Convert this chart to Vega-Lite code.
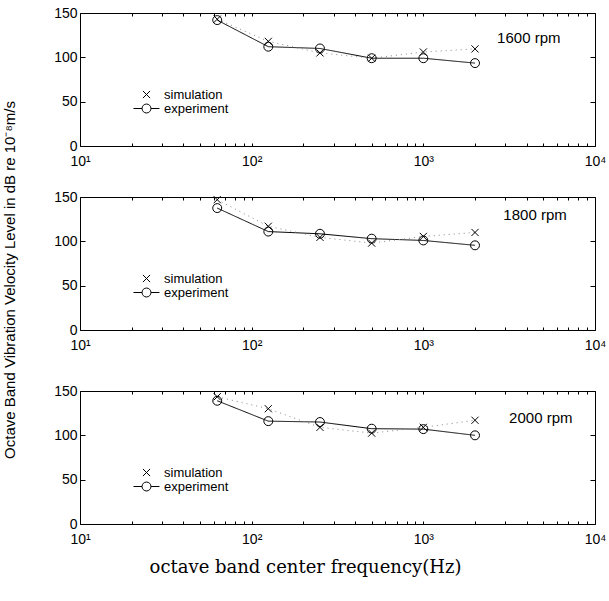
{
  "$schema": "https://vega.github.io/schema/vega-lite/v6.json",
  "padding": {"left": 3, "top": 5, "right": 2, "bottom": 5},
  "background": "white",
  "title": {"text": "Octave Band Vibration Velocity Level in dB re 10⁻⁸m/s", "orient": "left", "anchor": "middle", "font": "Liberation Sans", "fontSize": 15, "fontWeight": "normal", "color": "black", "offset": 35, "dx": 11},
  "config": {
    "view": {"stroke": "black", "strokeWidth": 1},
    "font": "Liberation Sans",
    "axis": {"grid": false, "domain": false, "tickColor": "black", "labelColor": "black", "titleColor": "black", "titleFontWeight": "normal"}
  },
  "datasets": {
    "levels": [
      {"rpm": 1600, "series": "experiment", "freq": 63, "level": 142},
      {"rpm": 1600, "series": "experiment", "freq": 125, "level": 112},
      {"rpm": 1600, "series": "experiment", "freq": 250, "level": 110},
      {"rpm": 1600, "series": "experiment", "freq": 500, "level": 99},
      {"rpm": 1600, "series": "experiment", "freq": 1000, "level": 99},
      {"rpm": 1600, "series": "experiment", "freq": 2000, "level": 93.5},
      {"rpm": 1600, "series": "simulation", "freq": 63, "level": 143},
      {"rpm": 1600, "series": "simulation", "freq": 125, "level": 118},
      {"rpm": 1600, "series": "simulation", "freq": 250, "level": 105},
      {"rpm": 1600, "series": "simulation", "freq": 500, "level": 99},
      {"rpm": 1600, "series": "simulation", "freq": 1000, "level": 106},
      {"rpm": 1600, "series": "simulation", "freq": 2000, "level": 109.5},
      {"rpm": 1800, "series": "experiment", "freq": 63, "level": 137.5},
      {"rpm": 1800, "series": "experiment", "freq": 125, "level": 111},
      {"rpm": 1800, "series": "experiment", "freq": 250, "level": 108.5},
      {"rpm": 1800, "series": "experiment", "freq": 500, "level": 103},
      {"rpm": 1800, "series": "experiment", "freq": 1000, "level": 101},
      {"rpm": 1800, "series": "experiment", "freq": 2000, "level": 95.5},
      {"rpm": 1800, "series": "simulation", "freq": 63, "level": 147},
      {"rpm": 1800, "series": "simulation", "freq": 125, "level": 117},
      {"rpm": 1800, "series": "simulation", "freq": 250, "level": 104.5},
      {"rpm": 1800, "series": "simulation", "freq": 500, "level": 98},
      {"rpm": 1800, "series": "simulation", "freq": 1000, "level": 105.5},
      {"rpm": 1800, "series": "simulation", "freq": 2000, "level": 110},
      {"rpm": 2000, "series": "experiment", "freq": 63, "level": 139},
      {"rpm": 2000, "series": "experiment", "freq": 125, "level": 116},
      {"rpm": 2000, "series": "experiment", "freq": 250, "level": 115},
      {"rpm": 2000, "series": "experiment", "freq": 500, "level": 107.5},
      {"rpm": 2000, "series": "experiment", "freq": 1000, "level": 107},
      {"rpm": 2000, "series": "experiment", "freq": 2000, "level": 100},
      {"rpm": 2000, "series": "simulation", "freq": 63, "level": 143.5},
      {"rpm": 2000, "series": "simulation", "freq": 125, "level": 130},
      {"rpm": 2000, "series": "simulation", "freq": 250, "level": 109},
      {"rpm": 2000, "series": "simulation", "freq": 500, "level": 102.5},
      {"rpm": 2000, "series": "simulation", "freq": 1000, "level": 109},
      {"rpm": 2000, "series": "simulation", "freq": 2000, "level": 117}
    ]
  },
  "spacing": 30,
  "resolve": {"legend": {"shape": "independent"}},
  "vconcat": [
    {
      "spacing": 20,
      "resolve": {"legend": {"shape": "independent"}},
      "vconcat": [
        {
          "width": 515, "height": 133,
          "data": {"name": "levels"},
          "transform": [{"filter": "datum.rpm == 1600"}],
          "resolve": {"scale": {"shape": "independent"}, "axis": {"x": "independent", "y": "independent"}},
          "layer": [
            {
              "mark": {"type": "line", "strokeWidth": 1},
              "encoding": {
                "x": {"field": "freq", "type": "quantitative", "scale": {"type": "log", "domain": [10, 10000], "nice": false},
                  "axis": {"values": [10,20,30,40,50,60,70,80,90,100,200,300,400,500,600,700,800,900,1000,2000,3000,4000,5000,6000,7000,8000,9000,10000],
                    "labelExpr": "datum.value == 10 ? '10¹' : datum.value == 100 ? '10²' : datum.value == 1000 ? '10³' : datum.value == 10000 ? '10⁴' : ''",
                    "labelOverlap": false, "labelFlush": false, "tickSize": -3, "labelPadding": 11, "labelFontSize": 14, "title": null}},
                "y": {"field": "level", "type": "quantitative", "scale": {"domain": [0, 150], "nice": false},
                  "axis": {"values": [0, 50, 100, 150], "tickSize": -5, "labelPadding": 8, "labelFontSize": 14, "title": null}},
                "strokeDash": {"field": "series", "type": "nominal", "scale": {"domain": ["simulation", "experiment"], "range": [[1, 4], [1, 0]]}, "legend": null},
                "color": {"field": "series", "type": "nominal", "scale": {"domain": ["simulation", "experiment"], "range": ["#888888", "#000000"]}, "legend": null}
              }
            },
            {
              "mark": {"type": "point", "filled": false, "strokeWidth": 1, "size": 80, "color": "black", "opacity": 1},
              "encoding": {
                "x": {"field": "freq", "type": "quantitative", "axis": null},
                "y": {"field": "level", "type": "quantitative", "axis": null},
                "shape": {"field": "series", "type": "nominal", "scale": {"domain": ["simulation", "experiment"], "range": ["M-0.8,-0.8L0.8,0.8M-0.8,0.8L0.8,-0.8", "circle"]}, "legend": null}
              }
            },
            {
              "mark": {"type": "point", "filled": false, "strokeWidth": 1, "size": 80, "color": "black", "opacity": 0},
              "encoding": {
                "x": {"field": "freq", "type": "quantitative", "axis": {"orient": "top", "values": [10,20,30,40,50,60,70,80,90,100,200,300,400,500,600,700,800,900,1000,2000,3000,4000,5000,6000,7000,8000,9000,10000], "labels": false, "tickSize": -3, "title": null}},
                "y": {"field": "level", "type": "quantitative", "axis": {"orient": "right", "values": [0, 50, 100, 150], "labels": false, "tickSize": -5, "title": null}},
                "shape": {"field": "series", "type": "nominal", "scale": {"domain": ["simulation", "experiment"], "range": ["M-0.8,-0.8L0.8,0.8M-0.8,0.8L0.8,-0.8", "M-1,0A1,1 0 1,0 1,0A1,1 0 1,0 -1,0M-2.9,0L-1,0M1,0L2.9,0"]},
                  "legend": {"orient": "none", "legendX": 60, "legendY": 75, "title": null, "labelFontSize": 13, "labelOffset": 11, "rowPadding": 0, "padding": 0,
                    "symbolStrokeColor": "black", "symbolFillColor": "transparent", "symbolStrokeWidth": 1, "symbolSize": 80, "symbolOpacity": 1, "labelColor": "black"}}
              }
            },
            {
              "data": {"values": [{"label": "1600 rpm"}]},
              "mark": {"type": "text", "align": "left", "baseline": "middle", "fontSize": 15, "color": "black"},
              "encoding": {"text": {"field": "label"}, "x": {"datum": 2690, "axis": null}, "y": {"datum": 122, "axis": null}}
            }
          ]
        },
        {
          "width": 515, "height": 133,
          "data": {"name": "levels"},
          "transform": [{"filter": "datum.rpm == 1800"}],
          "resolve": {"scale": {"shape": "independent"}, "axis": {"x": "independent", "y": "independent"}},
          "layer": [
            {
              "mark": {"type": "line", "strokeWidth": 1},
              "encoding": {
                "x": {"field": "freq", "type": "quantitative", "scale": {"type": "log", "domain": [10, 10000], "nice": false},
                  "axis": {"values": [10,20,30,40,50,60,70,80,90,100,200,300,400,500,600,700,800,900,1000,2000,3000,4000,5000,6000,7000,8000,9000,10000],
                    "labelExpr": "datum.value == 10 ? '10¹' : datum.value == 100 ? '10²' : datum.value == 1000 ? '10³' : datum.value == 10000 ? '10⁴' : ''",
                    "labelOverlap": false, "labelFlush": false, "tickSize": -3, "labelPadding": 11, "labelFontSize": 14, "title": null}},
                "y": {"field": "level", "type": "quantitative", "scale": {"domain": [0, 150], "nice": false},
                  "axis": {"values": [0, 50, 100, 150], "tickSize": -5, "labelPadding": 8, "labelFontSize": 14, "title": null}},
                "strokeDash": {"field": "series", "type": "nominal", "scale": {"domain": ["simulation", "experiment"], "range": [[1, 4], [1, 0]]}, "legend": null},
                "color": {"field": "series", "type": "nominal", "scale": {"domain": ["simulation", "experiment"], "range": ["#888888", "#000000"]}, "legend": null}
              }
            },
            {
              "mark": {"type": "point", "filled": false, "strokeWidth": 1, "size": 80, "color": "black", "opacity": 1},
              "encoding": {
                "x": {"field": "freq", "type": "quantitative", "axis": null},
                "y": {"field": "level", "type": "quantitative", "axis": null},
                "shape": {"field": "series", "type": "nominal", "scale": {"domain": ["simulation", "experiment"], "range": ["M-0.8,-0.8L0.8,0.8M-0.8,0.8L0.8,-0.8", "circle"]}, "legend": null}
              }
            },
            {
              "mark": {"type": "point", "filled": false, "strokeWidth": 1, "size": 80, "color": "black", "opacity": 0},
              "encoding": {
                "x": {"field": "freq", "type": "quantitative", "axis": {"orient": "top", "values": [10,20,30,40,50,60,70,80,90,100,200,300,400,500,600,700,800,900,1000,2000,3000,4000,5000,6000,7000,8000,9000,10000], "labels": false, "tickSize": -3, "title": null}},
                "y": {"field": "level", "type": "quantitative", "axis": {"orient": "right", "values": [0, 50, 100, 150], "labels": false, "tickSize": -5, "title": null}},
                "shape": {"field": "series", "type": "nominal", "scale": {"domain": ["simulation", "experiment"], "range": ["M-0.8,-0.8L0.8,0.8M-0.8,0.8L0.8,-0.8", "M-1,0A1,1 0 1,0 1,0A1,1 0 1,0 -1,0M-2.9,0L-1,0M1,0L2.9,0"]},
                  "legend": {"orient": "none", "legendX": 60, "legendY": 75, "title": null, "labelFontSize": 13, "labelOffset": 11, "rowPadding": 0, "padding": 0,
                    "symbolStrokeColor": "black", "symbolFillColor": "transparent", "symbolStrokeWidth": 1, "symbolSize": 80, "symbolOpacity": 1, "labelColor": "black"}}
              }
            },
            {
              "data": {"values": [{"label": "1800 rpm"}]},
              "mark": {"type": "text", "align": "left", "baseline": "middle", "fontSize": 15, "color": "black"},
              "encoding": {"text": {"field": "label"}, "x": {"datum": 2925, "axis": null}, "y": {"datum": 130, "axis": null}}
            }
          ]
        }
      ]
    },
    {
      "width": 515, "height": 133,
      "data": {"name": "levels"},
      "transform": [{"filter": "datum.rpm == 2000"}],
      "resolve": {"scale": {"shape": "independent"}, "axis": {"x": "independent", "y": "independent"}},
      "layer": [
        {
          "mark": {"type": "line", "strokeWidth": 1},
          "encoding": {
            "x": {"field": "freq", "type": "quantitative", "scale": {"type": "log", "domain": [10, 10000], "nice": false},
              "axis": {"values": [10,20,30,40,50,60,70,80,90,100,200,300,400,500,600,700,800,900,1000,2000,3000,4000,5000,6000,7000,8000,9000,10000],
                "labelExpr": "datum.value == 10 ? '10¹' : datum.value == 100 ? '10²' : datum.value == 1000 ? '10³' : datum.value == 10000 ? '10⁴' : ''",
                "labelOverlap": false, "labelFlush": false, "tickSize": -3, "labelPadding": 11, "labelFontSize": 14,
                "title": "octave band center frequency(Hz)", "titleFont": "DejaVu Serif", "titleFontSize": 18, "titlePadding": 12, "titleX": 225}},
            "y": {"field": "level", "type": "quantitative", "scale": {"domain": [0, 150], "nice": false},
              "axis": {"values": [0, 50, 100, 150], "tickSize": -5, "labelPadding": 8, "labelFontSize": 14, "title": null}},
            "strokeDash": {"field": "series", "type": "nominal", "scale": {"domain": ["simulation", "experiment"], "range": [[1, 4], [1, 0]]}, "legend": null},
            "color": {"field": "series", "type": "nominal", "scale": {"domain": ["simulation", "experiment"], "range": ["#888888", "#000000"]}, "legend": null}
          }
        },
        {
          "mark": {"type": "point", "filled": false, "strokeWidth": 1, "size": 80, "color": "black", "opacity": 1},
          "encoding": {
            "x": {"field": "freq", "type": "quantitative", "axis": null},
            "y": {"field": "level", "type": "quantitative", "axis": null},
            "shape": {"field": "series", "type": "nominal", "scale": {"domain": ["simulation", "experiment"], "range": ["M-0.8,-0.8L0.8,0.8M-0.8,0.8L0.8,-0.8", "circle"]}, "legend": null}
          }
        },
        {
          "mark": {"type": "point", "filled": false, "strokeWidth": 1, "size": 80, "color": "black", "opacity": 0},
          "encoding": {
            "x": {"field": "freq", "type": "quantitative", "axis": {"orient": "top", "values": [10,20,30,40,50,60,70,80,90,100,200,300,400,500,600,700,800,900,1000,2000,3000,4000,5000,6000,7000,8000,9000,10000], "labels": false, "tickSize": -3, "title": null}},
            "y": {"field": "level", "type": "quantitative", "axis": {"orient": "right", "values": [0, 50, 100, 150], "labels": false, "tickSize": -5, "title": null}},
            "shape": {"field": "series", "type": "nominal", "scale": {"domain": ["simulation", "experiment"], "range": ["M-0.8,-0.8L0.8,0.8M-0.8,0.8L0.8,-0.8", "M-1,0A1,1 0 1,0 1,0A1,1 0 1,0 -1,0M-2.9,0L-1,0M1,0L2.9,0"]},
              "legend": {"orient": "none", "legendX": 60, "legendY": 75, "title": null, "labelFontSize": 13, "labelOffset": 11, "rowPadding": 0, "padding": 0,
                "symbolStrokeColor": "black", "symbolFillColor": "transparent", "symbolStrokeWidth": 1, "symbolSize": 80, "symbolOpacity": 1, "labelColor": "black"}}
          }
        },
        {
          "data": {"values": [{"label": "2000 rpm"}]},
          "mark": {"type": "text", "align": "left", "baseline": "middle", "fontSize": 15, "color": "black"},
          "encoding": {"text": {"field": "label"}, "x": {"datum": 3160, "axis": null}, "y": {"datum": 120, "axis": null}}
        }
      ]
    }
  ]
}
